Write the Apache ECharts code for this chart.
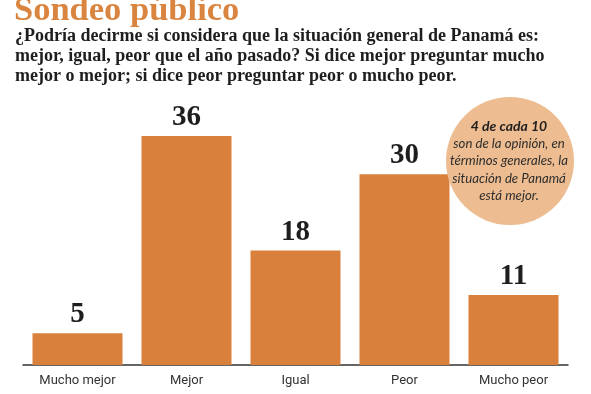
<!DOCTYPE html>
<html>
<head>
<meta charset="utf-8">
<script src="https://cdn.jsdelivr.net/npm/echarts@6/dist/echarts.min.js"></script>
<style>html,body{margin:0;padding:0;background:#fff;}#c{width:591px;height:394px;}</style>
</head>
<body>
<div id="c"></div>
<script>
const categories = ['Mucho mejor', 'Mejor', 'Igual', 'Peor', 'Mucho peor'];
const values = [5, 36, 18, 30, 11];
const titleText = 'Sondeo público';
const subtitleLines = [
  '¿Podría decirme si considera que la situación general de Panamá es:',
  'mejor, igual, peor que el año pasado? Si dice mejor preguntar mucho',
  'mejor o mejor; si dice peor preguntar peor o mucho peor.'
];
const noteBold = '4 de cada 10';
const noteLines = ['son de la opinión, en', 'términos generales, la', 'situación de Panamá', 'está mejor.'];

const chart = echarts.init(document.getElementById('c'), null, {renderer: 'canvas'});
chart.setOption({
  backgroundColor: '#ffffff',
  animation: false,
  grid: {left: 23, right: 23, top: 110.6, bottom: 29},
  xAxis: {
    type: 'category',
    data: categories,
    axisLine: {lineStyle: {color: '#333', width: 1.5}},
    axisTick: {show: false},
    axisLabel: {color: '#333', fontFamily: 'Roboto', fontSize: 13, margin: 9}
  },
  yAxis: {
    type: 'value', min: 0, max: 40,
    show: false,
    splitLine: {show: false}
  },
  series: [{
    type: 'bar',
    data: values,
    barWidth: 90,
    itemStyle: {color: '#D9803C'},
    label: {
      show: true, position: 'top', distance: 4,
      fontFamily: 'Liberation Serif', fontWeight: 'bold', fontSize: 29, color: '#1e1e1e'
    }
  }],
  graphic: [
    {type: 'text', left: 14, top: -6, z: 10,
     style: {text: titleText, font: 'bold 34.5px "Liberation Serif"', fill: '#DA853F'}},
    {type: 'text', left: 15, top: 27, z: 10,
     style: {text: subtitleLines.join('\n'), font: 'bold 18px "Liberation Serif"', fill: '#1e1e1e', lineHeight: 19.6}},
    {type: 'circle', shape: {cx: 510, cy: 161, r: 64}, z: 20,
     style: {fill: '#EDBC90'}},
    {type: 'text', x: 509, y: 126, z: 21,
     style: {text: noteBold, font: 'italic bold 14px Lato', fill: '#1e1e1e', align: 'center', verticalAlign: 'middle'}},
    {type: 'text', x: 509, y: 134.5, z: 21,
     style: {text: noteLines.join('\n'), font: 'italic 13.2px Lato', fill: '#2e2e2e', align: 'center', verticalAlign: 'top', lineHeight: 17.5}}
  ]
});
</script>
</body>
</html>
